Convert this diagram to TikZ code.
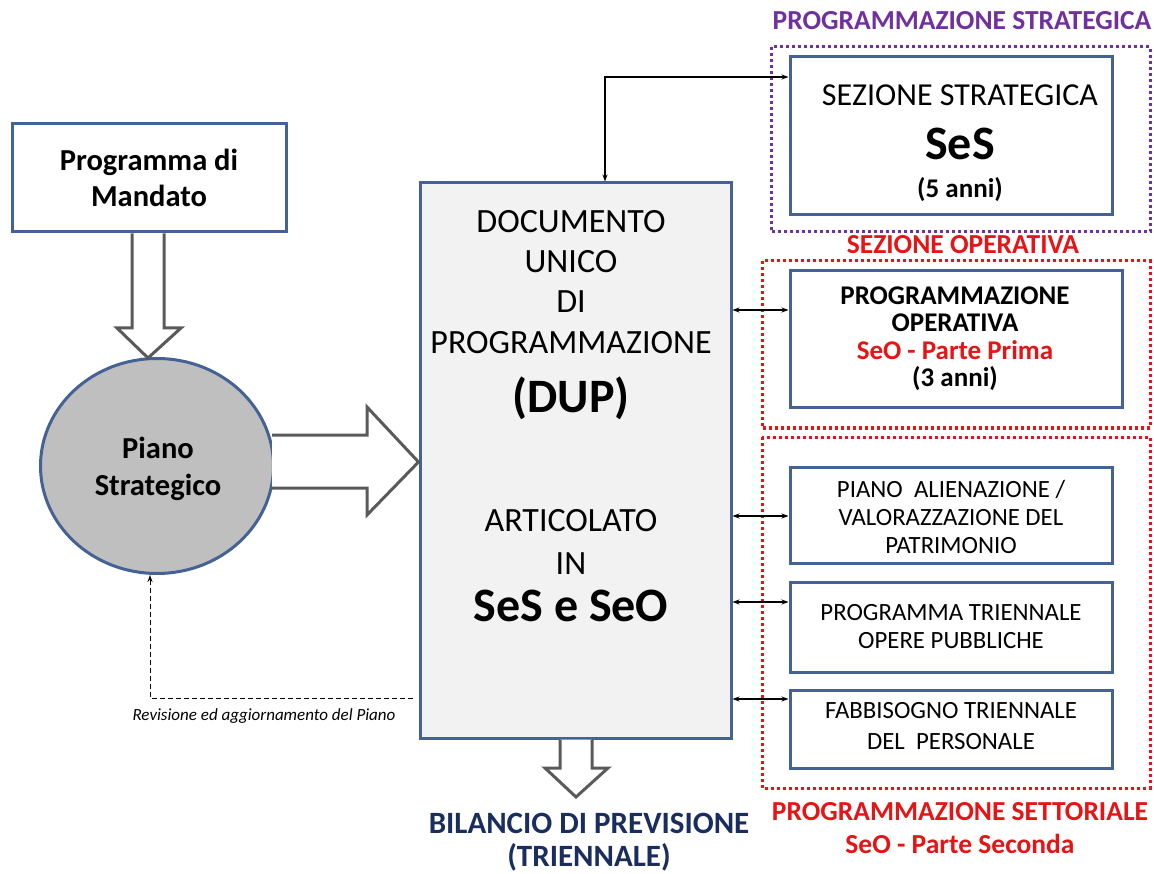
\documentclass[tikz,border=0pt]{standalone}
\usepackage{fontspec}
\setmainfont{Carlito}
\usetikzlibrary{arrows.meta,shapes.geometric}
\definecolor{boxblue}{RGB}{68,98,148}
\definecolor{arrgray}{RGB}{90,90,90}
\definecolor{dupfill}{RGB}{242,242,242}
\definecolor{circfill}{RGB}{191,191,191}
\definecolor{purp}{RGB}{112,48,160}
\definecolor{redd}{RGB}{230,20,20}
\definecolor{navy}{RGB}{25,45,95}
\newcommand\fsz[1]{\fontsize{#1}{#1}\selectfont}
\begin{document}
\begin{tikzpicture}[x=1pt,y=-1pt,
  bx/.style={draw=boxblue, line width=3pt, fill=white, inner sep=0pt},
  tx/.style={inner sep=0pt, anchor=base},
  hollow/.style={draw=arrgray, line width=3pt, fill=white, line join=miter},
  conn/.style={line width=1.1pt, {Stealth[length=7pt,width=5pt]}-{Stealth[length=7pt,width=5pt]}},
  dotframe/.style={line width=3pt, dash pattern=on 3pt off 3pt}
]
\useasboundingbox (0,0) rectangle (1154,874);
% dotted frames
\draw[dotframe, draw=purp] (771,47) rectangle (1150,232);
\draw[dotframe, draw=redd] (762,261) rectangle (1150,428);
\draw[dotframe, draw=redd] (762,437) rectangle (1150,788);

% main nodes
\node[bx, minimum width=274pt, minimum height=108pt] (mandato) at (149,178) {};
\node[bx, ellipse, fill=circfill, minimum width=233pt, minimum height=215pt] (piano) at (157,466) {};
\node[bx, fill=dupfill, minimum width=311pt, minimum height=555pt] (dup) at (575.5,460.5) {};
\node[bx, minimum width=322pt, minimum height=158pt] (ses) at (951,136) {};
\node[bx, minimum width=332pt, minimum height=137pt] (pgop) at (956,339.5) {};
\node[bx, minimum width=322pt, minimum height=96pt] (alien) at (951,515) {};
\node[bx, minimum width=322pt, minimum height=90pt] (optr) at (951,627) {};
\node[bx, minimum width=322pt, minimum height=78pt] (fabb) at (951,729) {};

% hollow arrows
\draw[hollow] (mandato.south -| 132,0) -- (132,328) -- (117,328) -- (148,358) -- (181,328) -- (164,328) -- (mandato.south -| 164,0);
\draw[hollow] (272,435) -- (367,435) -- (367,407) -- (dup.west |- 0,462) -- (367,515) -- (367,488) -- (272,488);
\draw[hollow] (dup.south -| 560,0) -- (560,768) -- (545,768) -- (576,797) -- (608,768) -- (592,768) -- (dup.south -| 592,0);

% texts
\node[tx] (t1) at (149,171) {\fsz{30.5}\bfseries Programma di};
\node[tx] (t2) at (149,207) {\fsz{30.5}\bfseries Mandato};
\node[tx] (t3) at (158,458) {\fsz{30.5}\bfseries Piano};
\node[tx] (t4) at (158,495) {\fsz{30.5}\bfseries Strategico};

\node[tx] (d1) at (571,233) {\fsz{34}DOCUMENTO};
\node[tx] (d2) at (571,273) {\fsz{34}UNICO};
\node[tx] (d3) at (571,313) {\fsz{34}DI};
\node[tx] (d4) at (571,354) {\fsz{34}PROGRAMMAZIONE};
\node[tx] (d5) at (571,413) {\fsz{48}\bfseries (DUP)};
\node[tx] (d6) at (571,531) {\fsz{34}ARTICOLATO};
\node[tx] (d7) at (571,574) {\fsz{34}IN};
\node[tx] (d8) at (571,621) {\fsz{48}\bfseries SeS e SeO};

\node[tx] (s1) at (960,106) {\fsz{32}SEZIONE STRATEGICA};
\node[tx] (s2) at (960,160) {\fsz{48}\bfseries SeS};
\node[tx] (s3) at (960,198) {\fsz{27}\bfseries (5 anni)};

\node[tx] (p1) at (955,305) {\fsz{27}\bfseries PROGRAMMAZIONE};
\node[tx] (p2) at (955,332) {\fsz{27}\bfseries OPERATIVA};
\node[tx, text=redd] (p3) at (955,360) {\fsz{27}\bfseries SeO - Parte Prima};
\node[tx] (p4) at (955,387) {\fsz{27}\bfseries (3 anni)};

\node[tx] (a1) at (951,497) {\fsz{24.8}PIANO\ \ ALIENAZIONE /};
\node[tx] (a2) at (951,525) {\fsz{24.8}VALORAZZAZIONE DEL};
\node[tx] (a3) at (951,553) {\fsz{24.8}PATRIMONIO};
\node[tx] (o1) at (951,620) {\fsz{24.8}PROGRAMMA TRIENNALE};
\node[tx] (o2) at (951,648) {\fsz{24.8}OPERE PUBBLICHE};
\node[tx] (f1) at (951,718) {\fsz{24.8}FABBISOGNO TRIENNALE};
\node[tx] (f2) at (951,749) {\fsz{24.8}DEL\ \ PERSONALE};

\node[tx, text=purp] (h1) at (962,30) {\fsz{27.5}\bfseries PROGRAMMAZIONE STRATEGICA};
\node[tx, text=redd] (h2) at (963,254) {\fsz{27.5}\bfseries SEZIONE OPERATIVA};
\node[tx, text=redd] (h3) at (960,820) {\fsz{27.5}\bfseries PROGRAMMAZIONE SETTORIALE};
\node[tx, text=redd] (h4) at (960,853) {\fsz{27.5}\bfseries SeO - Parte Seconda};
\node[tx, text=navy] (b1) at (589,833) {\fsz{31}\bfseries BILANCIO DI PREVISIONE};
\node[tx, text=navy] (b2) at (589,866) {\fsz{31}\bfseries (TRIENNALE)};
\node[tx] (r1) at (264,720) {\fsz{17}\itshape Revisione ed aggiornamento del Piano};

% thin connectors
\coordinate (k) at (605,77);
\draw[conn] (dup.north -| k) |- (ses.west |- k);
\draw[conn] (dup.east |- 0,310) -- (pgop.west |- 0,310);
\draw[conn] (dup.east |- 0,516) -- (alien.west |- 0,516);
\draw[conn] (dup.east |- 0,602) -- (optr.west |- 0,602);
\draw[conn] (dup.east |- 0,699) -- (fabb.west |- 0,699);
\coordinate (rv) at (150,698);
\draw[line width=1pt, dash pattern=on 5pt off 3pt, -{Stealth[length=7pt,width=5pt]}] ([xshift=-6pt]dup.west |- rv) -- (rv) -- (rv |- piano.south);
\end{tikzpicture}
\end{document}
